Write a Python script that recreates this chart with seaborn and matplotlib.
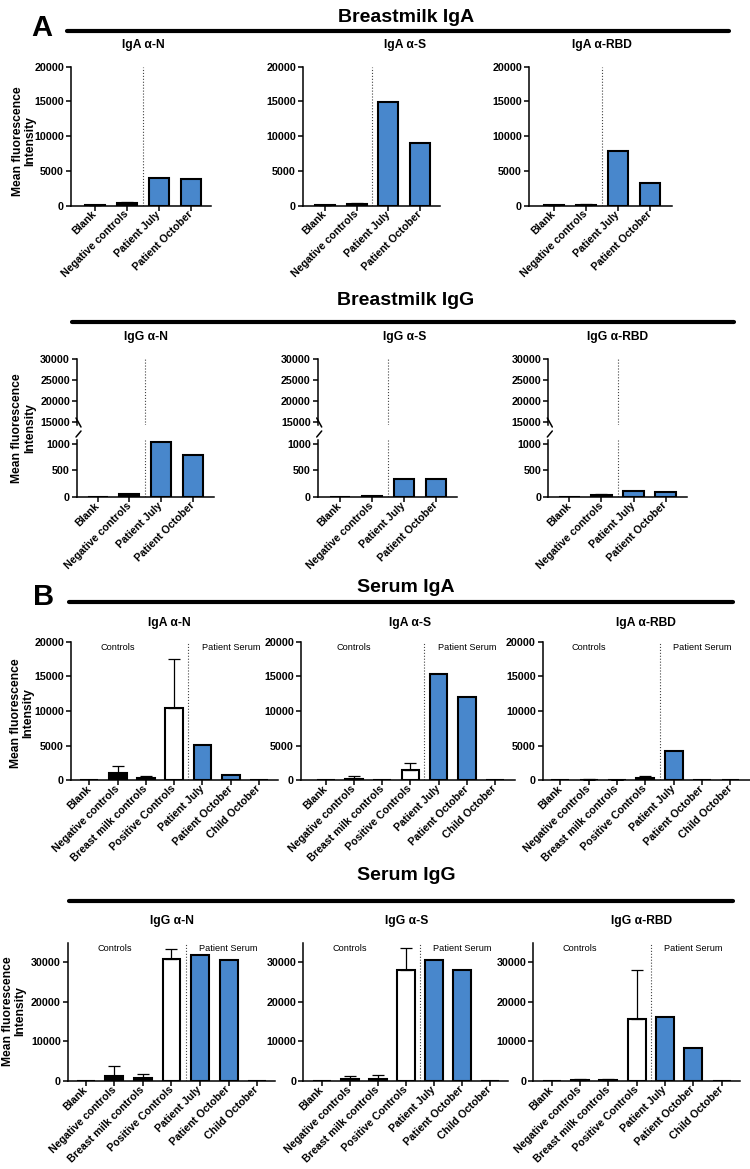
import numpy as np
import pandas as pd
import matplotlib
matplotlib.use("Agg")
import matplotlib.pyplot as plt
from matplotlib.lines import Line2D
import seaborn as sns

W, H = 750, 1169
BLUE = "#4887CC"

BM_CATS = ["Blank", "Negative controls", "Patient July", "Patient October"]
SERUM_CATS = ["Blank", "Negative controls", "Breast milk controls", "Positive Controls",
              "Patient July", "Patient October", "Child October"]
BM_COLORS = ["black", "black", BLUE, BLUE]
SERUM_COLORS = ["black", "black", "black", "white", BLUE, BLUE, BLUE]

# breastmilk IgA
bm_iga_n = [60, 330, 4000, 3850]
bm_iga_n_err = [60, 200, 0, 0]
bm_iga_s = [70, 220, 14850, 9050]
bm_iga_s_err = [60, 150, 0, 0]
bm_iga_rbd = [50, 130, 7900, 3250]
bm_iga_rbd_err = [50, 80, 0, 0]

# breastmilk IgG
bm_igg_n = [0, 50, 1040, 790]
bm_igg_n_err = [0, 10, 0, 0]
bm_igg_s = [0, 10, 340, 340]
bm_igg_s_err = [0, 0, 0, 0]
bm_igg_rbd = [0, 45, 120, 90]
bm_igg_rbd_err = [0, 5, 0, 0]

# serum IgA
se_iga_n = [0, 1100, 300, 10500, 5100, 720, 40]
se_iga_n_err = [0, 900, 250, 7000, 0, 0, 0]
se_iga_s = [0, 250, 50, 1530, 15400, 12000, 0]
se_iga_s_err = [0, 380, 0, 1000, 0, 0, 0]
se_iga_rbd = [0, 100, 60, 280, 4250, 0, 20]
se_iga_rbd_err = [0, 100, 40, 400, 0, 0, 0]

# serum IgG
se_igg_n = [0, 1200, 700, 31000, 32000, 30700, 0]
se_igg_n_err = [0, 2600, 1000, 2500, 0, 0, 0]
se_igg_s = [0, 500, 600, 28200, 30600, 28000, 0]
se_igg_s_err = [0, 700, 800, 5500, 0, 0, 0]
se_igg_rbd = [0, 200, 200, 15600, 16200, 8300, 0]
se_igg_rbd_err = [0, 250, 200, 12600, 0, 0, 0]

sns.set_style("ticks")
plt.rcParams["font.family"] = ["Liberation Sans", "DejaVu Sans"]
plt.rcParams["font.weight"] = "bold"
plt.rcParams["axes.linewidth"] = 1.1
for k in ["text.color", "axes.labelcolor", "xtick.color", "ytick.color", "axes.edgecolor"]:
    plt.rcParams[k] = "black"

fig = plt.figure(figsize=(W / 100, H / 100), dpi=100)


def px_rect(l, t, r, b):
    return [l / W, 1 - b / H, (r - l) / W, (b - t) / H]


def bars(ax, cats, vals, errs, colors):
    df = pd.DataFrame({"cat": cats, "val": vals})
    sns.barplot(data=df, x="cat", y="val", hue="cat", order=cats, hue_order=cats,
                palette=dict(zip(cats, colors)), legend=False, width=0.63, saturation=1,
                edgecolor="black", linewidth=1.5, errorbar=None, ax=ax)
    x = np.arange(len(cats))
    errs = np.asarray(errs, dtype=float)
    m = errs > 0
    if m.any():
        ax.errorbar(x[m], np.asarray(vals, dtype=float)[m], yerr=[np.zeros(m.sum()), errs[m]],
                    fmt="none", ecolor="black", elinewidth=0.9, capsize=4, capthick=0.9)


def style(ax, xlim, ylim, yticks, labels=True):
    ax.set_xlim(*xlim)
    ax.set_ylim(*ylim)
    ax.set_yticks(yticks)
    ax.set_yticklabels([str(t) for t in yticks])
    ax.set_xlabel("")
    ax.set_ylabel("")
    sns.despine(ax=ax)
    ax.tick_params(axis="both", labelsize=7.7, width=1.1, length=3.5, pad=1.5, colors="black")
    if labels:
        plt.setp(ax.get_xticklabels(), rotation=45, ha="right", va="center",
                 rotation_mode="anchor")


def ylab(x, y):
    fig.text(x / W, 1 - y / H, "Mean fluorescence\nIntensity", rotation=90, ha="center",
             va="center", fontsize=8.7, fontweight="bold", multialignment="center",
             linespacing=1.1)


def header(title, ty, rule, subs, sub_y):
    fig.text(406 / W, 1 - ty / H, title, ha="center", va="center", fontsize=14, fontweight="bold")
    x0, x1, ry = rule
    fig.add_artist(Line2D([x0 / W, x1 / W], [1 - ry / H, 1 - ry / H], color="black", lw=3,
                          transform=fig.transFigure))
    for name, sx in subs:
        fig.text(sx / W, 1 - sub_y / H, name, ha="center", va="center", fontsize=8.7,
                 fontweight="bold")


def group_text(ax):
    for xx, txt in [(1, "Controls"), (5, "Patient Serum")]:
        ax.text(xx, 0.955, txt, transform=ax.get_xaxis_transform(), ha="center", va="center",
                fontsize=6.6, fontweight="normal")


# ---- A: Breastmilk IgA ----
fig.text(42 / W, 1 - 28 / H, "A", fontsize=21, fontweight="bold", ha="center", va="center")
header("Breastmilk IgA", 18, (67, 729, 30.7),
       [("IgA α-N", 143), ("IgA α-S", 405), ("IgA α-RBD", 602)], 45)
row1 = [((71, 211), (-0.75, 3.63), bm_iga_n, bm_iga_n_err),
        ((303, 440), (-0.69, 3.63), bm_iga_s, bm_iga_s_err),
        ((529, 672), (-0.78, 3.69), bm_iga_rbd, bm_iga_rbd_err)]
for (l, r), xl, v, e in row1:
    ax = fig.add_axes(px_rect(l, 66.7, r, 205.7))
    bars(ax, BM_CATS, v, e, BM_COLORS)
    ax.axvline(1.5, color="#444444", lw=0.8, ls=":")
    style(ax, xl, (0, 20000), [0, 5000, 10000, 15000, 20000])
ylab(24, 141)

# ---- Breastmilk IgG (broken axis) ----
header("Breastmilk IgG", 301, (72, 734, 322.3),
       [("IgG α-N", 146), ("IgG α-S", 405), ("IgG α-RBD", 618)], 337)
row2 = [((77, 214), (-0.65, 3.66), bm_igg_n, bm_igg_n_err),
        ((317.7, 457), (-0.7, 3.67), bm_igg_s, bm_igg_s_err),
        ((548.3, 686.7), (-0.66, 3.66), bm_igg_rbd, bm_igg_rbd_err)]
for (l, r), xl, v, e in row2:
    top = fig.add_axes(px_rect(l, 359, r, 425))
    bars(top, BM_CATS, v, e, BM_COLORS)
    top.axvline(1.5, color="#444444", lw=0.8, ls=":")
    style(top, xl, (14290, 30000), [15000, 20000, 25000, 30000], labels=False)
    top.spines["bottom"].set_visible(False)
    top.tick_params(axis="x", bottom=False, labelbottom=False)

    bot = fig.add_axes(px_rect(l, 440, r, 497))
    bars(bot, BM_CATS, v, e, BM_COLORS)
    bot.axvline(1.5, color="#444444", lw=0.8, ls=":")
    style(bot, xl, (0, 1075), [0, 500, 1000])

    # break marks on the y axis
    for y0, y1 in [(418, 427), (437, 431)]:
        fig.add_artist(Line2D([(l - 1) / W, (l + 4) / W], [1 - y0 / H, 1 - y1 / H],
                              color="black", lw=1.1, transform=fig.transFigure))
ylab(23.5, 428)

# ---- B: Serum IgA ----
fig.text(44 / W, 1 - 597 / H, "B", fontsize=21, fontweight="bold", ha="center", va="center")
header("Serum IgA", 588, (69, 733, 601.7),
       [("IgA α-N", 169.5), ("IgA α-S", 410), ("IgA α-RBD", 645.5)], 623)
row3 = [((71, 278), (-0.65, 6.67), se_iga_n, se_iga_n_err),
        ((301, 515), (-0.88, 6.71), se_iga_s, se_iga_s_err),
        ((542.7, 749.5), (-0.62, 6.67), se_iga_rbd, se_iga_rbd_err)]
for (l, r), xl, v, e in row3:
    ax = fig.add_axes(px_rect(l, 641.7, r, 780.3))
    bars(ax, SERUM_CATS, v, e, SERUM_COLORS)
    ax.axvline(3.5, color="#444444", lw=0.8, ls=":")
    style(ax, xl, (0, 20000), [0, 5000, 10000, 15000, 20000])
    group_text(ax)
ylab(22, 713)

# ---- Serum IgG ----
header("Serum IgG", 876, (69, 733, 901),
       [("IgG α-N", 171.7), ("IgG α-S", 406.7), ("IgG α-RBD", 642)], 921)
row4 = [((67.7, 275), (-0.64, 6.63), se_igg_n, se_igg_n_err),
        ((303.3, 508), (-0.66, 6.65), se_igg_s, se_igg_s_err),
        ((533.3, 740), (-0.65, 6.65), se_igg_rbd, se_igg_rbd_err)]
for (l, r), xl, v, e in row4:
    ax = fig.add_axes(px_rect(l, 942.7, r, 1081))
    bars(ax, SERUM_CATS, v, e, SERUM_COLORS)
    ax.axvline(3.5, color="#444444", lw=0.8, ls=":")
    style(ax, xl, (0, 35000), [0, 10000, 20000, 30000])
    group_text(ax)
ylab(14, 1011)

fig.savefig("out.png", dpi=100)
